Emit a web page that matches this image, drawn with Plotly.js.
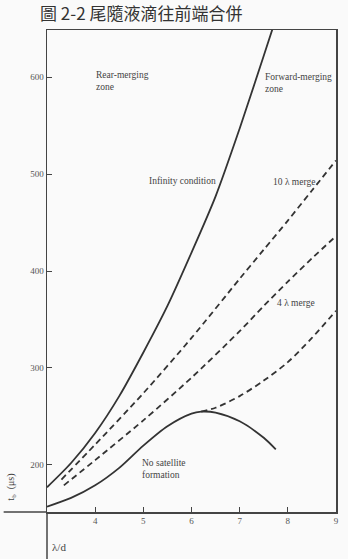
<!DOCTYPE html>
<html><head><meta charset="utf-8">
<script src="https://cdn.plot.ly/plotly-3.0.1.min.js"></script>
<style>html,body{margin:0;padding:0;background:#fafafa;}</style>
</head><body>
<div id="chart" style="width:348px;height:559px;"></div>
<script>
// Data
const infX = [3.0, 3.5, 4.0, 4.5, 5.0, 5.5, 6.0, 6.5, 7.0, 7.5, 7.75];
const infY = [177, 202, 233, 271, 316, 364, 419, 477, 547, 622, 660];
const noSatX = [3.0, 3.5, 4.0, 4.5, 5.0, 5.5, 6.0, 6.2, 6.5, 7.0, 7.5, 7.75];
const noSatY = [157, 166, 179, 197, 220, 240, 253, 255, 254, 245, 228, 216];
const merge10X = [3.3, 4.0, 5.0, 6.0, 7.0, 7.5, 8.0, 8.5, 9.0];
const merge10Y = [185, 221, 274, 331, 392, 422, 452, 483, 514];
const merge4X = [3.35, 4.0, 5.0, 6.0, 7.0, 7.5, 8.0, 8.5, 9.0];
const merge4Y = [179, 205, 246, 290, 338, 364, 389, 413, 436];
const mergeLowX = [6.2, 6.5, 7.0, 7.5, 8.0, 8.5, 9.0];
const mergeLowY = [255, 259, 271, 287, 306, 331, 359];
const xTicks = [4, 5, 6, 7, 8, 9];
const yTicks = [200, 300, 400, 500, 600];

const ink = '#333';
const serif = 'Liberation Serif, Times New Roman, serif';
const solid = {color: ink, width: 1.8, shape: 'spline', smoothing: 0.8};
const dashed = {color: ink, width: 1.8, shape: 'spline', smoothing: 0.8, dash: '6px,4px'};

const traces = [
  {x: infX, y: infY, mode: 'lines', line: solid, hoverinfo: 'skip'},
  {x: noSatX, y: noSatY, mode: 'lines', line: solid, hoverinfo: 'skip'},
  {x: merge10X, y: merge10Y, mode: 'lines', line: dashed, hoverinfo: 'skip'},
  {x: merge4X, y: merge4Y, mode: 'lines', line: dashed, hoverinfo: 'skip'},
  {x: mergeLowX, y: mergeLowY, mode: 'lines', line: dashed, hoverinfo: 'skip'}
];

const lab = (x, y, text, xanchor) => ({x, y, xref: 'x', yref: 'y', text, showarrow: false,
  xanchor: xanchor || 'left', yanchor: 'middle', align: 'left',
  font: {family: serif, size: 9.5, color: '#444'}});

const layout = {
  width: 348, height: 559,
  margin: {l: 46.5, r: 11.5, t: 30, b: 47, pad: 0},
  paper_bgcolor: '#fafafa', plot_bgcolor: '#fafafa',
  showlegend: false,
  title: {text: '圖 2-2 尾隨液滴往前端合併', x: 40/348, xanchor: 'left', xref: 'container',
    y: 1 - 14/559, yanchor: 'middle', yref: 'container',
    font: {family: 'Noto Sans CJK TC', size: 17, color: '#333'}},
  xaxis: {range: [3, 9], tickvals: xTicks, ticks: 'inside', ticklen: 5, tickcolor: '#444',
    showline: true, mirror: true, linecolor: '#444', linewidth: 1.5, showgrid: false, zeroline: false,
    tickfont: {family: serif, size: 9, color: '#555'}, fixedrange: true},
  yaxis: {range: [151.5, 648.5], tickvals: yTicks, ticks: 'inside', ticklen: 5, tickcolor: '#444',
    showline: true, mirror: true, linecolor: '#444', linewidth: 1.5, showgrid: false, zeroline: false,
    tickfont: {family: serif, size: 9, color: '#555'}, fixedrange: true},
  shapes: [
    {type: 'line', xref: 'paper', yref: 'paper', x0: 0, x1: 0, y0: -47/482, y1: 0,
      line: {color: '#444', width: 1.5}},
    {type: 'line', xref: 'paper', yref: 'paper', x0: -43.5/290, x1: 0, y0: 0, y1: 0,
      line: {color: '#444', width: 1.5}}
  ],
  annotations: [
    lab(3.98, 596, 'Rear-merging<br>zone'),
    lab(7.48, 594, 'Forward-merging<br>zone'),
    lab(6.55, 493, 'Infinity condition', 'right'),
    lab(7.65, 492, '10 λ merge'),
    lab(7.73, 367, '4 λ merge'),
    lab(4.93, 196, 'No satellite<br>formation'),
    {xref: 'paper', yref: 'paper', x: (50-46.5)/290, y: -(547-512)/482, text: 'λ/d', showarrow: false,
      xanchor: 'left', yanchor: 'middle', font: {family: serif, size: 11, color: '#444'}},
    {xref: 'paper', yref: 'paper', x: (10-46.5)/290, y: (512-487)/482, text: 't<sub>b</sub>  (μs)', showarrow: false,
      textangle: -90, xanchor: 'center', yanchor: 'middle', font: {family: serif, size: 10, color: '#444'}}
  ]
};

Plotly.newPlot('chart', traces, layout, {displayModeBar: false, staticPlot: true});
</script>
</body></html>
